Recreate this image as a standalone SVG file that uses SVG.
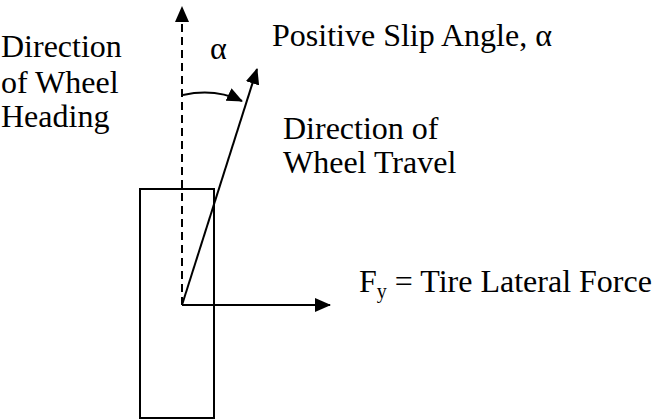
<svg xmlns="http://www.w3.org/2000/svg" width="658" height="420" viewBox="0 0 658 420">
<style>
text{font-family:"Liberation Serif","Times New Roman",serif;font-size:32px;fill:#000}
.ln{stroke:#000;stroke-width:2;fill:none}
</style>
<defs>
<marker id="ah" markerWidth="16" markerHeight="14" refX="15" refY="7" orient="auto" markerUnits="userSpaceOnUse">
<path d="M0,0 L16,7 L0,14 Z" fill="#000"/>
</marker>
</defs>
<rect x="0" y="0" width="658" height="420" fill="#fff"/>
<g id="wheel"><rect class="ln" x="140" y="189" width="74" height="229"/></g>
<g id="connectors">
<line class="ln" x1="182" y1="305" x2="182" y2="7" stroke-dasharray="8,5" marker-end="url(#ah)"/>
<line class="ln" x1="182" y1="305" x2="257" y2="69" marker-end="url(#ah)"/>
<line class="ln" x1="182" y1="305" x2="330" y2="305" marker-end="url(#ah)"/>
<path class="ln" d="M183,95 Q215,88 242,101" marker-end="url(#ah)"/>
</g>
<g id="labels">
<text x="1" y="57">Direction</text>
<text x="1" y="93">of Wheel</text>
<text x="1" y="127">Heading</text>
<text x="210" y="59">α</text>
<text x="272" y="46">Positive Slip Angle, α</text>
<text x="283" y="139">Direction of</text>
<text x="283" y="173">Wheel Travel</text>
<text x="359" y="292">F<tspan font-size="20" dy="6">y</tspan><tspan dy="-6"> = Tire Lateral Force</tspan></text>
</g>
</svg>
